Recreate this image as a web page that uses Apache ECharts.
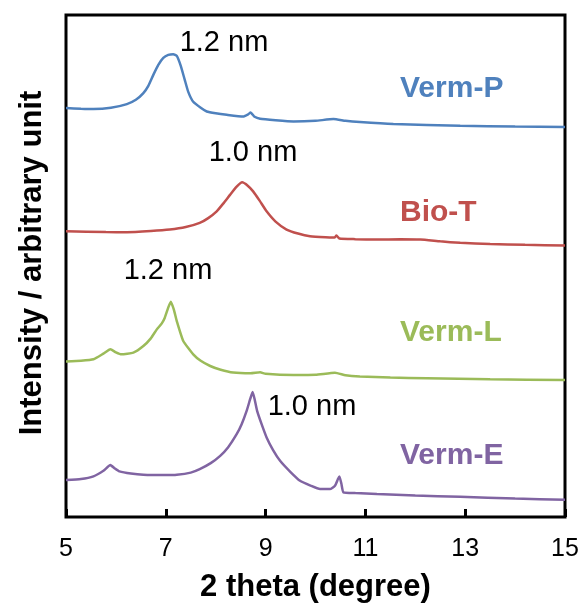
<!DOCTYPE html>
<html>
<head>
<meta charset="utf-8">
<script src="https://cdn.jsdelivr.net/npm/echarts@6/dist/echarts.min.js"></script>
<style>
html,body{margin:0;padding:0;background:#fff;}
#chart{width:584px;height:608px;}
</style>
</head>
<body>
<div id="chart"></div>
<script>
// 2 theta (degree) ticks
const xTicks = [5, 7, 9, 11, 13, 15];

// Intensity (arbitrary unit, stacked with offsets as in the figure)
const vermP = [
  [5.0,409.7],[5.3,409],[5.55,408.7],[5.9,410],[6.22,413.7],[6.4,418],[6.55,424.7],[6.65,432],
  [6.75,443],[6.85,453],[6.95,460],[7.05,463],[7.15,463.7],[7.22,462],[7.3,452],[7.38,438],
  [7.45,426],[7.55,416],[7.7,410],[7.82,406.3],[8.0,404.5],[8.22,403],[8.55,401.3],[8.65,403.5],
  [8.70,405.3],[8.78,401],[8.89,399],[9.2,397.5],[9.56,396.3],[10.0,397],[10.36,398.7],[10.6,397],
  [10.89,395.7],[11.56,393.7],[12.9,392],[14.0,391.2],[15.0,390.7]
];
const bioT = [
  [5.0,286.3],[5.8,285.5],[6.22,285.3],[6.7,286.5],[7.08,288],[7.4,290.5],[7.68,294.7],[7.85,299.5],
  [8.02,306.3],[8.15,314],[8.29,323],[8.42,331],[8.53,335.3],[8.62,333],[8.75,326.3],[8.88,317],
  [9.02,306.3],[9.2,296],[9.42,288],[9.65,284],[9.89,281.3],[10.2,280.2],[10.38,280],[10.42,282],
  [10.48,279],[10.8,278.4],[11.23,278],[11.7,278.3],[12.1,278],[12.5,276.2],[12.9,274.7],[13.5,273.5],
  [14.2,272.7],[15.0,272]
];
const vermL = [
  [5.0,155.7],[5.3,156.5],[5.55,158],[5.75,163.7],[5.89,168],[6.0,165],[6.11,163],[6.35,164.7],
  [6.55,171.3],[6.7,179],[6.82,188],[6.92,194],[6.98,199.7],[7.05,210],[7.1,215.7],[7.16,208],
  [7.22,196.3],[7.35,176.3],[7.55,163],[7.7,156.5],[7.89,151.3],[8.1,147.5],[8.35,144.7],[8.7,144],
  [8.89,145],[9.0,143.5],[9.56,142.3],[10.0,142.5],[10.39,144.5],[10.6,142],[10.89,140.7],[11.5,139.7],
  [12.23,139],[13.5,138],[15.0,137.3]
];
const vermE = [
  [5.0,37],[5.3,38],[5.55,40.7],[5.75,46.3],[5.89,52],[5.98,48.5],[6.07,45.7],[6.3,43.5],
  [6.55,42.3],[7.0,42],[7.22,42.3],[7.5,44.5],[7.68,48],[7.9,54],[8.09,61.3],[8.25,70],
  [8.42,83],[8.52,93],[8.62,106.3],[8.69,118],[8.74,125.3],[8.78,118],[8.83,106.3],[8.92,93],
  [9.02,79.7],[9.15,67],[9.29,56.3],[9.5,45],[9.69,36.3],[9.9,31.5],[10.09,28],[10.29,28],
  [10.39,31.3],[10.45,38],[10.48,40.7],[10.52,33],[10.56,24.7],[10.8,24],[11.23,23],[12.0,21.5],
  [12.9,20.3],[14.0,18.5],[15.0,17.3]
];

const seriesNames = ['Verm-P', 'Bio-T', 'Verm-L', 'Verm-E'];
const seriesData = [vermP, bioT, vermL, vermE];
const colors = ['#4F81BD', '#C0504D', '#9BBB59', '#8064A2'];

const FONT = '"Liberation Sans", Arial, sans-serif';
const chart = echarts.init(document.getElementById('chart'));

const texts = [
  {t:'1.2 nm', x:224, y:43},
  {t:'1.0 nm', x:253, y:153},
  {t:'1.2 nm', x:168, y:271},
  {t:'1.0 nm', x:312, y:407}
];
const nameLabels = [
  {t:'Verm-P', x:400, y:89, c:colors[0]},
  {t:'Bio-T', x:400, y:213, c:colors[1]},
  {t:'Verm-L', x:400, y:333, c:colors[2]},
  {t:'Verm-E', x:400, y:456, c:colors[3]}
];

const graphics = [];
texts.forEach(d => graphics.push({
  type:'text', x:d.x, y:d.y, z:100,
  style:{text:d.t, fill:'#000', font:'29px ' + FONT, textAlign:'center', textVerticalAlign:'middle'}
}));
nameLabels.forEach(d => graphics.push({
  type:'text', x:d.x, y:d.y, z:100,
  style:{text:d.t, fill:d.c, font:'bold 30px ' + FONT, textAlign:'left', textVerticalAlign:'middle'}
}));
graphics.push({
  type:'text', x:32, y:263, rotation:Math.PI/2, z:100,
  style:{text:'Intensity / arbitrary unit', fill:'#000', font:'bold 31px ' + FONT, textAlign:'center', textVerticalAlign:'middle'}
});

chart.setOption({
  animation:false,
  backgroundColor:'#fff',
  grid:{left:66, right:19, top:15, bottom:90, show:true, borderColor:'#000', borderWidth:3, backgroundColor:'transparent'},
  xAxis:{
    type:'value', min:xTicks[0], max:xTicks[xTicks.length-1], interval:2,
    axisLine:{show:false},
    axisTick:{show:true, inside:true, length:8, lineStyle:{color:'#000', width:3}},
    splitLine:{show:false},
    axisLabel:{color:'#000', fontSize:25, fontFamily:FONT, margin:20,
      formatter: v => xTicks.includes(v) ? String(v) : ''},
    name:'2 theta (degree)', nameLocation:'middle', nameGap:55,
    nameTextStyle:{color:'#000', fontSize:31, fontWeight:'bold', fontFamily:FONT}
  },
  yAxis:{
    type:'value', min:0, max:503,
    show:true, axisLine:{show:false}, axisTick:{show:false}, axisLabel:{show:false}, splitLine:{show:false}
  },
  series: seriesData.map((d, i) => ({
    name:seriesNames[i], type:'line', data:d, showSymbol:false, smooth:0.15,
    lineStyle:{color:colors[i], width:2.5}, itemStyle:{color:colors[i]}
  })),
  graphic: graphics
});
</script>
</body>
</html>
